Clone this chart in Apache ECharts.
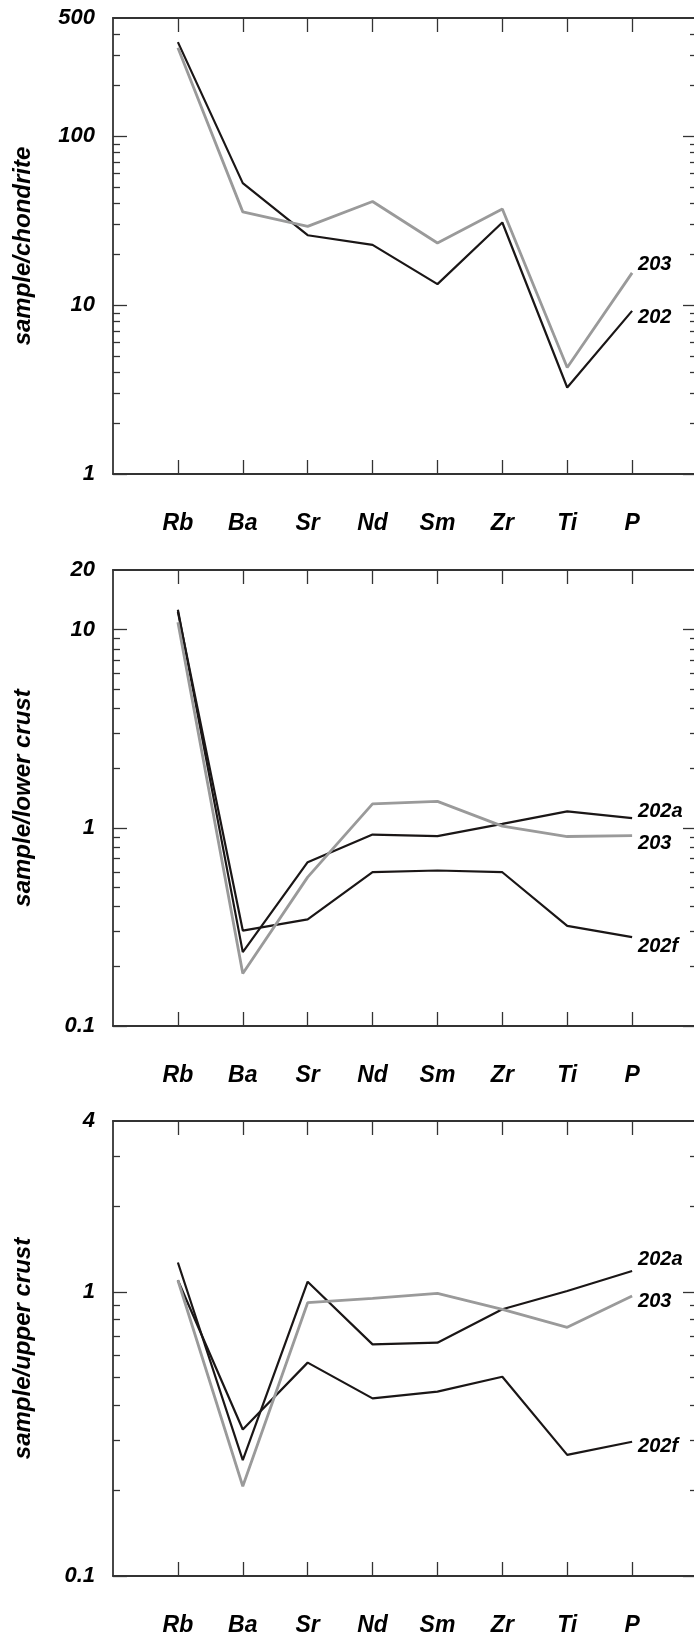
<!DOCTYPE html>
<html>
<head>
<meta charset="utf-8">
<script src="https://cdn.jsdelivr.net/npm/echarts@6/dist/echarts.min.js"></script>
<style>
  html, body { margin: 0; padding: 0; background: #fff; }
  #main { width: 694px; height: 1633px; }
</style>
</head>
<body>
<div id="main"></div>
<script>
// element order along the x axis
var elements = ['Rb', 'Ba', 'Sr', 'Nd', 'Sm', 'Zr', 'Ti', 'P'];

// sample / chondrite
var chondrite202 = [360, 52.7, 25.9, 22.7, 13.3, 30.8, 3.25, 9.24];
var chondrite203 = [333, 35.6, 29.2, 41, 23.3, 37, 4.27, 15.5];
var chondriteLabels = [1, 10, 100, 500];

// sample / lower crust
var lower202a = [12.6, 0.236, 0.671, 0.925, 0.908, 1.047, 1.21, 1.12];
var lower203 = [10.9, 0.184, 0.564, 1.32, 1.36, 1.02, 0.904, 0.914];
var lower202f = [12.3, 0.303, 0.345, 0.597, 0.609, 0.597, 0.32, 0.281];
var lowerLabels = [0.1, 1, 10, 20];

// sample / upper crust
var upper202a = [1.27, 0.256, 1.087, 0.654, 0.663, 0.869, 1.008, 1.185];
var upper203 = [1.10, 0.207, 0.917, 0.950, 0.989, 0.869, 0.751, 0.968];
var upper202f = [1.10, 0.328, 0.564, 0.422, 0.446, 0.503, 0.267, 0.297];
var upperLabels = [0.1, 1, 4];

var FONT = "'Liberation Sans', Arial, sans-serif";
var BLACK = '#1a1616';
var GRAY = '#9a9a9a';
var FRAME = '#333333';

var panels = [
  { top: 18, height: 456, min: 1, max: 500, labels: chondriteLabels, name: 'sample/chondrite',
    lines: [
      { name: '202', data: chondrite202, color: BLACK, width: 2.2, dy: 7 },
      { name: '203', data: chondrite203, color: GRAY, width: 2.8, dy: -8 }
    ] },
  { top: 570, height: 456, min: 0.1, max: 20, labels: lowerLabels, name: 'sample/lower crust',
    lines: [
      { name: '202f', data: lower202f, color: BLACK, width: 2.2, dy: 9 },
      { name: '202a', data: lower202a, color: BLACK, width: 2.2, dy: -7 },
      { name: '203', data: lower203, color: GRAY, width: 2.8, dy: 8 }
    ] },
  { top: 1121, height: 455, min: 0.1, max: 4, labels: upperLabels, name: 'sample/upper crust',
    lines: [
      { name: '202f', data: upper202f, color: BLACK, width: 2.2, dy: 5 },
      { name: '202a', data: upper202a, color: BLACK, width: 2.2, dy: -12 },
      { name: '203', data: upper203, color: GRAY, width: 2.8, dy: 5 }
    ] }
];

function minorTicks(min, max) {
  var out = [];
  for (var d = min; d < max; d *= 10) {
    for (var k = 2; k <= 9; k++) {
      var v = +(d * k).toPrecision(3);
      if (v < max) out.push(v);
    }
  }
  return out;
}
function decades(min, max) {
  var out = [];
  for (var d = min; d <= max * 1.0001; d *= 10) out.push(+d.toPrecision(3));
  return out;
}

var positions = elements.map(function (e, i) { return i + 1; });
var textBase = { fontFamily: FONT, fontWeight: 'bold', fontStyle: 'italic', color: '#000' };

var grid = [], xAxis = [], yAxis = [], series = [];

panels.forEach(function (p, pi) {
  grid.push({ left: 113, right: -3, top: p.top, height: p.height, outerBoundsMode: 'none' });

  // bottom and top x axes
  xAxis.push({
    type: 'value', gridIndex: pi, min: 0, max: 9, position: 'bottom',
    splitLine: { show: false },
    axisLine: { lineStyle: { color: FRAME, width: 1.8 } },
    axisTick: { inside: true, length: 14, customValues: positions, lineStyle: { color: FRAME, width: 1.3 } },
    axisLabel: Object.assign({ fontSize: 23, margin: 38, customValues: positions,
      formatter: function (v) { return elements[Math.round(v) - 1] || ''; } }, textBase)
  });
  xAxis.push({
    type: 'value', gridIndex: pi, min: 0, max: 9, position: 'top',
    splitLine: { show: false },
    axisLine: { lineStyle: { color: FRAME, width: 1.8 } },
    axisTick: { inside: true, length: 14, customValues: positions, lineStyle: { color: FRAME, width: 1.3 } },
    axisLabel: { show: false }
  });

  var major = decades(p.min, p.max);
  var minor = minorTicks(p.min, p.max);
  ['left', 'right'].forEach(function (side) {
    yAxis.push({
      type: 'log', logBase: 10, gridIndex: pi, min: p.min, max: p.max, position: side,
      splitLine: { show: false },
      axisLine: { show: true, lineStyle: { color: FRAME, width: 1.8 } },
      axisTick: { inside: true, length: 14, customValues: major, lineStyle: { color: FRAME, width: 1.3 } },
      axisLabel: side === 'left'
        ? Object.assign({ fontSize: 22, margin: 18, customValues: p.labels,
            formatter: function (v) { return String(+(+v).toPrecision(3)); } }, textBase)
        : { show: false },
      name: side === 'left' ? p.name : '',
      nameLocation: 'middle', nameGap: 78, nameRotate: 90,
      nameTextStyle: Object.assign({ fontSize: 24 }, textBase)
    });
    yAxis.push({
      type: 'log', logBase: 10, gridIndex: pi, min: p.min, max: p.max, position: side,
      splitLine: { show: false },
      axisLine: { show: false },
      axisTick: { inside: true, length: 7, customValues: minor, lineStyle: { color: FRAME, width: 1.3 } },
      axisLabel: { show: false }
    });
  });

  p.lines.forEach(function (ln) {
    series.push({
      type: 'line', name: ln.name,
      xAxisIndex: pi * 2, yAxisIndex: pi * 4,
      symbol: 'none', silent: true,
      lineStyle: { color: ln.color, width: ln.width },
      data: ln.data.map(function (v, i) { return [positions[i], v]; }),
      endLabel: Object.assign({ show: true, fontSize: 20, distance: 6, offset: [0, ln.dy],
        formatter: function () { return ln.name; } }, textBase)
    });
  });
});

var chart = echarts.init(document.getElementById('main'), null, { renderer: 'canvas' });
chart.setOption({
  animation: false,
  backgroundColor: '#fff',
  grid: grid,
  xAxis: xAxis,
  yAxis: yAxis,
  series: series
});
</script>
</body>
</html>
